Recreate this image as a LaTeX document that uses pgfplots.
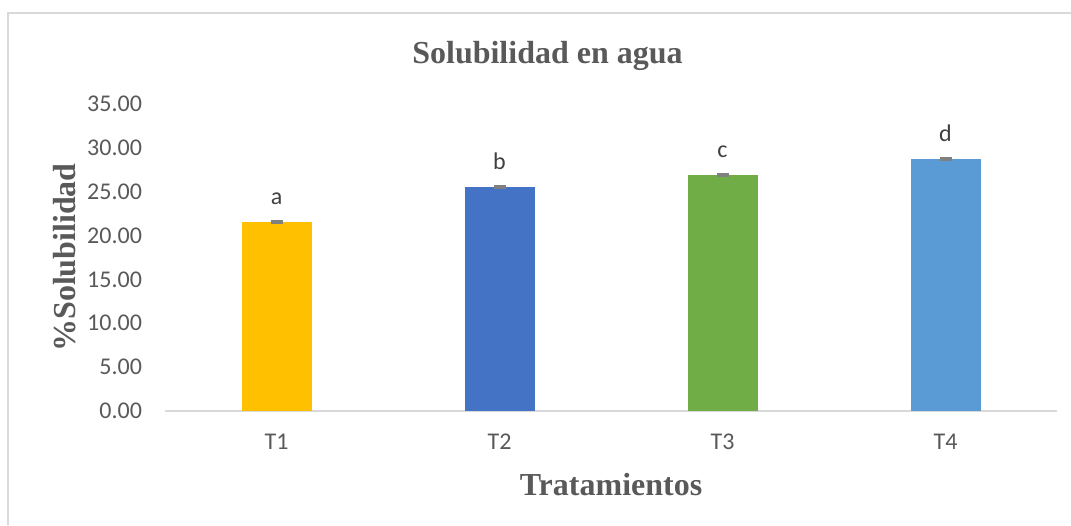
\documentclass[border=0pt]{standalone}
\usepackage{fontspec}
\setmainfont{Liberation Serif}
\newfontfamily\calibri{Carlito}
\usepackage{pgfplots}
\pgfplotsset{compat=1.18}
\definecolor{tickgray}{HTML}{595959}
\definecolor{axisgray}{HTML}{D9D9D9}
\definecolor{cT1}{HTML}{FFC000}
\definecolor{cT2}{HTML}{4472C4}
\definecolor{cT3}{HTML}{70AD47}
\definecolor{cT4}{HTML}{5B9BD5}
\pgfplotsset{
  every axis title/.style={at={(axis description cs:0.4288,1.157)}, anchor=center,
    font=\bfseries\fontsize{16}{18}\selectfont, text=tickgray},
  every axis x label/.style={at={(axis description cs:0.5,-0.241)}, anchor=center,
    font=\bfseries\fontsize{16}{18}\selectfont, text=tickgray},
  every axis y label/.style={at={(axis description cs:-0.112,0.5)}, anchor=center, rotate=90,
    font=\bfseries\fontsize{16}{18}\selectfont, text=tickgray},
}
\begin{document}
\begin{tikzpicture}
\useasboundingbox (0,0) rectangle (535.5pt,262.5pt);
\draw[axisgray, line width=0.8pt] (4pt,0) -- (4pt,256pt) -- (535.5pt,256pt);
\begin{axis}[
  at={(82.5pt,57pt)}, anchor=south west,
  scale only axis, width=446pt, height=153.5pt,
  ybar, bar width=35pt, bar shift=0pt,
  xmin=-0.5, xmax=3.5, ymin=0, ymax=35,
  xtick={0,1,2,3}, xticklabels={T1,T2,T3,T4},
  ytick={0,5,...,35},
  axis x line*=bottom, axis y line*=left,
  x axis line style={axisgray, line width=1pt, -},
  y axis line style={draw=none},
  major tick length=0pt,
  tick label style={font=\calibri\fontsize{12}{14}\selectfont, text=tickgray},
  /pgf/number format/assume math mode=true,
  yticklabel={\pgfmathprintnumber[fixed,fixed zerofill,precision=2]{\tick}},
  yticklabel style={anchor=east, xshift=-8pt},
  ytick style={draw=none}, xtick style={draw=none},
  xticklabel style={yshift=-8pt},
  title={Solubilidad en agua},
  xlabel={Tratamientos},
  ylabel={\%Solubilidad},
  nodes near coords style={font=\calibri\fontsize{12}{14}\selectfont, text=black!75, anchor=south, yshift=5pt},
  error bars/error bar style={gray, line width=1.5pt},
  error bars/error mark options={gray, rotate=90, mark size=3pt, line width=1.5pt},
]
\addplot[fill=cT1, draw=none, nodes near coords={a},
  error bars/.cd, y dir=both, y explicit]
  coordinates {(0,21.55) +- (0,0.08)};
\addplot[fill=cT2, draw=none, nodes near coords={b},
  error bars/.cd, y dir=both, y explicit]
  coordinates {(1,25.55) +- (0,0.08)};
\addplot[fill=cT3, draw=none, nodes near coords={c},
  error bars/.cd, y dir=both, y explicit]
  coordinates {(2,26.90) +- (0,0.08)};
\addplot[fill=cT4, draw=none, nodes near coords={d},
  error bars/.cd, y dir=both, y explicit]
  coordinates {(3,28.75) +- (0,0.08)};
\end{axis}
\end{tikzpicture}
\end{document}
